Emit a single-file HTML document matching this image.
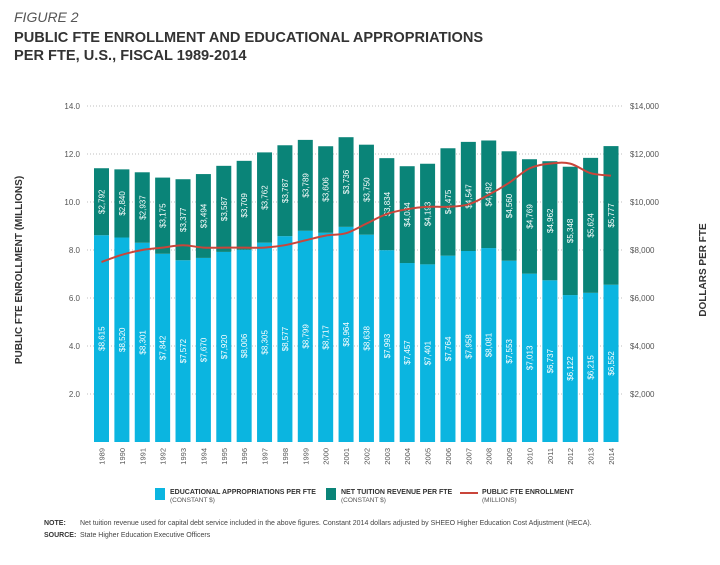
<!DOCTYPE html>
<html><head><meta charset="utf-8"><style>
body{margin:0;background:#fff;font-family:"Liberation Sans",sans-serif;}
svg text{font-family:"Liberation Sans",sans-serif;}
</style></head><body>
<svg id="chart" width="720" height="560" xmlns="http://www.w3.org/2000/svg">
<text x="14" y="22" font-size="14" font-style="italic" fill="#555">FIGURE 2</text>
<text x="14" y="42" font-size="14.6" font-weight="bold" fill="#333">PUBLIC FTE ENROLLMENT AND EDUCATIONAL APPROPRIATIONS</text>
<text x="14" y="60" font-size="14.6" font-weight="bold" fill="#333">PER FTE, U.S., FISCAL 1989-2014</text>
<g id="grid"></g><g id="bars"></g><g id="line"></g><g id="axes"></g>
<text transform="translate(22,270) rotate(-90)" text-anchor="middle" font-size="10" font-weight="bold" fill="#333">PUBLIC FTE ENROLLMENT (MILLIONS)</text>
<text transform="translate(706,270) rotate(-90)" text-anchor="middle" font-size="10" font-weight="bold" fill="#333">DOLLARS PER FTE</text>
<g>
<rect x="155" y="488" width="10" height="12" fill="#0bb5e0"/>
<text x="170" y="494" font-size="7" font-weight="bold" fill="#333">EDUCATIONAL APPROPRIATIONS PER FTE</text>
<text x="170" y="502" font-size="6.5" fill="#555">(CONSTANT $)</text>
<rect x="326" y="488" width="10" height="12" fill="#0a8478"/>
<text x="341" y="494" font-size="7" font-weight="bold" fill="#333">NET TUITION REVENUE PER FTE</text>
<text x="341" y="502" font-size="6.5" fill="#555">(CONSTANT $)</text>
<rect x="460" y="492" width="18" height="2" fill="#c9453a"/>
<text x="482" y="494" font-size="7" font-weight="bold" fill="#333">PUBLIC FTE ENROLLMENT</text>
<text x="482" y="502" font-size="6.5" fill="#555">(MILLIONS)</text>
</g>
<text x="44" y="525" font-size="7" font-weight="bold" fill="#333">NOTE:</text>
<text x="80" y="525" font-size="7" fill="#444">Net tuition revenue used for capital debt service included in the above figures. Constant 2014 dollars adjusted by SHEEO Higher Education Cost Adjustment (HECA).</text>
<text x="44" y="537" font-size="7" font-weight="bold" fill="#333">SOURCE:</text>
<text x="80" y="537" font-size="7" fill="#444">State Higher Education Executive Officers</text>
</svg>
<script>
const years=[1989,1990,1991,1992,1993,1994,1995,1996,1997,1998,1999,2000,2001,2002,2003,2004,2005,2006,2007,2008,2009,2010,2011,2012,2013,2014];
const approp=[8615,8520,8301,7842,7572,7670,7920,8006,8305,8577,8799,8717,8964,8638,7993,7457,7401,7764,7958,8081,7553,7013,6737,6122,6215,6552];
const tuition=[2792,2840,2937,3175,3377,3494,3587,3709,3762,3787,3789,3606,3736,3750,3834,4034,4193,4475,4547,4482,4560,4769,4962,5348,5624,5777];
const enroll=[7.5,7.8,8.0,8.1,8.2,8.1,8.1,8.1,8.1,8.2,8.4,8.6,8.7,9.1,9.5,9.7,9.8,9.8,9.9,10.3,10.8,11.4,11.6,11.6,11.2,11.1];
const leftTicks=[2,4,6,8,10,12,14];
const rightTicks=["$2,000","$4,000","$6,000","$8,000","$10,000","$12,000","$14,000"];
const NS="http://www.w3.org/2000/svg";
const y0=442,pxU=24,x0=101.5,step=20.38,bw=15,gx1=87,gx2=623;
const yS=v=>y0-v*pxU, xS=i=>x0+i*step, yD=d=>yS(d/1000);
function mk(t,a,p){const e=document.createElementNS(NS,t);for(const k in a)e.setAttribute(k,a[k]);p.appendChild(e);return e;}
const grid=document.getElementById('grid'),bars=document.getElementById('bars'),axes=document.getElementById('axes'),line=document.getElementById('line');
leftTicks.forEach((v,i)=>{
 const l=mk('line',{x1:gx1,x2:gx2,y1:yS(v),y2:yS(v),stroke:'#aaa','stroke-width':0.8,'stroke-dasharray':'1,2'},grid);
 
 
 const t=mk('text',{x:80,y:yS(v)+3,'text-anchor':'end','font-size':8,fill:'#555'},axes);t.textContent=v.toFixed(1);
 
 
 const r=mk('text',{x:630,y:yS(v)+3,'font-size':8,fill:'#555'},axes);r.textContent=rightTicks[i];
 
 
});
const fmt=n=>'$'+n.toLocaleString('en-US');
years.forEach((yr,i)=>{
 const cx=xS(i);
 const ya=yD(approp[i]), yt=yD(approp[i]+tuition[i]);
 const a=mk('rect',{x:cx-bw/2,y:ya,width:bw,height:y0-ya,fill:'#0bb5e0'},bars);
 
 
 const b=mk('rect',{x:cx-bw/2,y:yt,width:bw,height:ya-yt,fill:'#0a8478'},bars);
 
 
 const la=mk('text',{transform:`translate(${cx+3},${(ya+y0)/2}) rotate(-90)`,'text-anchor':'middle','font-size':8,fill:'#fff'},bars);la.textContent=fmt(approp[i]);
 
 
 const lt=mk('text',{transform:`translate(${cx+3},${(ya+yt)/2}) rotate(-90)`,'text-anchor':'middle','font-size':8,fill:'#fff'},bars);lt.textContent=fmt(tuition[i]);
 
 
 const yl=mk('text',{transform:`translate(${cx+3},${448}) rotate(-90)`,'text-anchor':'end','font-size':7.5,fill:'#555'},axes);yl.textContent=yr;
 
 
});
const pts=enroll.map((v,i)=>[xS(i),yS(v)]);
let d='M'+pts[0][0].toFixed(1)+','+pts[0][1].toFixed(1);
for(let i=0;i<pts.length-1;i++){
 const p0=pts[Math.max(i-1,0)],p1=pts[i],p2=pts[i+1],p3=pts[Math.min(i+2,pts.length-1)];
 const c1=[p1[0]+(p2[0]-p0[0])/6,p1[1]+(p2[1]-p0[1])/6],c2=[p2[0]-(p3[0]-p1[0])/6,p2[1]-(p3[1]-p1[1])/6];
 d+='C'+c1.map(n=>n.toFixed(1)).join(',')+' '+c2.map(n=>n.toFixed(1)).join(',')+' '+p2.map(n=>n.toFixed(1)).join(',');
}
const p=mk('path',{d:d,fill:'none',stroke:'#c9453a','stroke-width':2,'stroke-linejoin':'round'},line);


</script>
</body></html>
